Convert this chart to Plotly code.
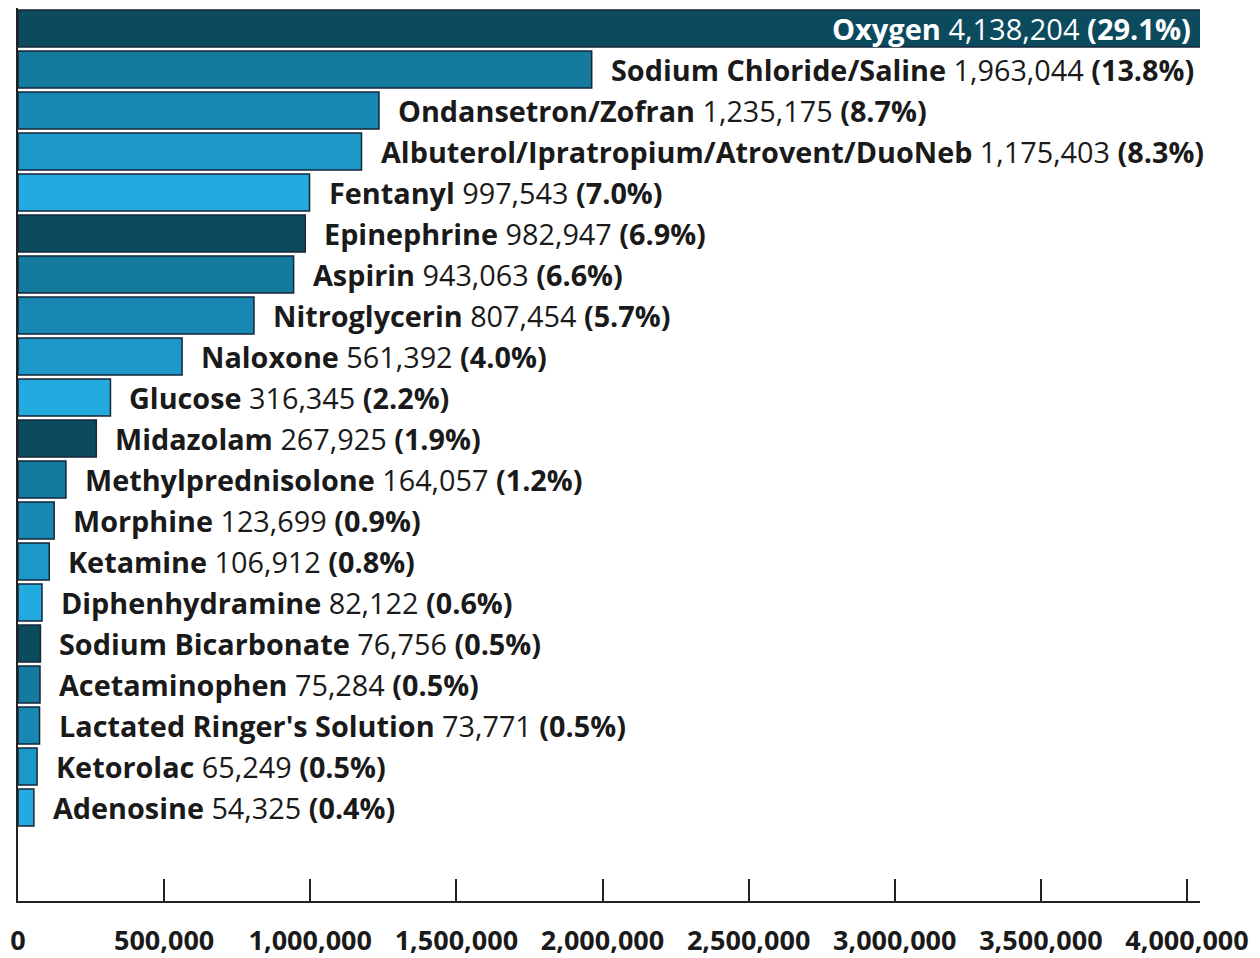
import plotly.graph_objects as go

drugs = ["Oxygen", "Sodium Chloride/Saline", "Ondansetron/Zofran",
         "Albuterol/Ipratropium/Atrovent/DuoNeb", "Fentanyl", "Epinephrine",
         "Aspirin", "Nitroglycerin", "Naloxone", "Glucose", "Midazolam",
         "Methylprednisolone", "Morphine", "Ketamine", "Diphenhydramine",
         "Sodium Bicarbonate", "Acetaminophen", "Lactated Ringer's Solution",
         "Ketorolac", "Adenosine"]
counts = [4138204, 1963044, 1235175, 1175403, 997543, 982947, 943063, 807454,
          561392, 316345, 267925, 164057, 123699, 106912, 82122, 76756, 75284,
          73771, 65249, 54325]
percents = ["29.1", "13.8", "8.7", "8.3", "7.0", "6.9", "6.6", "5.7", "4.0",
            "2.2", "1.9", "1.2", "0.9", "0.8", "0.6", "0.5", "0.5", "0.5",
            "0.5", "0.4"]
tick_vals = [0, 500000, 1000000, 1500000, 2000000, 2500000, 3000000, 3500000, 4000000]
tick_text = ["0", "500,000", "1,000,000", "1,500,000", "2,000,000", "2,500,000",
             "3,000,000", "3,500,000", "4,000,000"]

palette = ["#0c4a5e", "#147a9e", "#1888b2", "#1c99c8", "#23aade"]
colors = [palette[i % 5] for i in range(len(drugs))]

FONT = "Open Sans"

fig = go.Figure()
fig.add_trace(go.Bar(
    x=counts, y=drugs, orientation="h",
    marker=dict(color=colors, line=dict(color="#13263a", width=1.5)),
    hoverinfo="x+y",
))

annotations = []
for i, (d, c, p) in enumerate(zip(drugs, counts, percents)):
    txt = f"<b>{d}</b> {c:,} <b>({p}%)</b>"
    if i == 0:
        annotations.append(dict(x=1, xref="paper", y=d, yref="y", text=txt,
                                xanchor="right", xshift=-7, showarrow=False,
                                font=dict(family=FONT, size=29, color="white")))
    else:
        annotations.append(dict(x=c, xref="x", y=d, yref="y", text=txt,
                                xanchor="left", xshift=17, showarrow=False,
                                font=dict(family=FONT, size=28.8, color="#1a1a1a")))

fig.update_layout(
    width=1252, height=950,
    margin=dict(l=10, r=60, t=0, b=53),
    paper_bgcolor="white", plot_bgcolor="white",
    bargap=0.1,
    showlegend=False,
    annotations=annotations,
    xaxis=dict(range=[0, 4044500], tickvals=tick_vals, ticktext=tick_text,
               ticks="inside", ticklen=22, tickwidth=2, tickcolor="#222",
               showline=True, linecolor="#222", linewidth=2,
               showgrid=False, zeroline=False,
               ticklabelstandoff=15,
               tickfont=dict(family=FONT, size=27, color="#1a1a1a", weight="bold")),
    yaxis=dict(range=[21.28, -0.5], showticklabels=False, ticks="",
               showline=True, linecolor="#222", linewidth=2,
               showgrid=False, zeroline=False),
)

fig.write_html("out.html")
